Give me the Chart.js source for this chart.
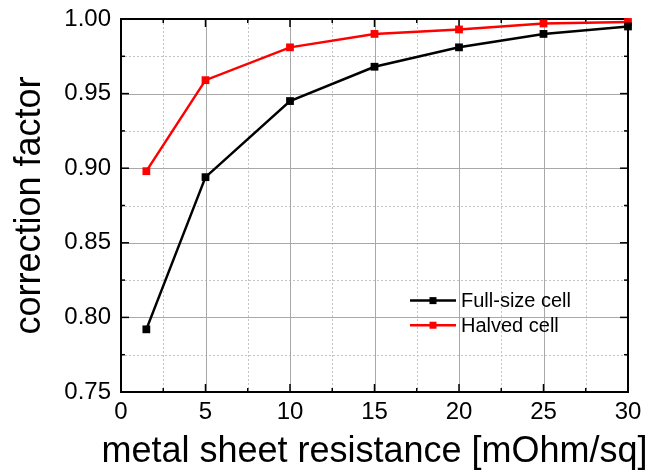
<!DOCTYPE html>
<html>
<head>
<meta charset="utf-8">
<script src="https://cdn.jsdelivr.net/npm/chart.js@4.4.0/dist/chart.umd.min.js"></script>
<style>
html, body { margin: 0; padding: 0; background: #fff; }
#wrap { width: 649px; height: 472px; }
</style>
</head>
<body>
<div id="wrap"><canvas id="graph"></canvas></div>
<script>
// values
const resistance = [1.5, 5, 10, 15, 20, 25, 30];
const fullSize = [0.792, 0.894, 0.945, 0.968, 0.981, 0.990, 0.995];
const halved = [0.898, 0.959, 0.981, 0.990, 0.993, 0.997, 0.998];
const xTicks = [0, 5, 10, 15, 20, 25, 30];
const yTicks = [0.75, 0.80, 0.85, 0.90, 0.95, 1.00];
const seriesNames = ['Full-size cell', 'Halved cell'];
const seriesColors = ['#000000', '#ff0000'];
const xTitle = 'metal sheet resistance [mOhm/sq]';
const yTitle = 'correction factor';

const FONT = '"Liberation Sans", Arial, sans-serif';
const xMinor = xTicks.slice(1).map((v, i) => (v + xTicks[i]) / 2);
const yMinor = yTicks.slice(1).map((v, i) => (v + yTicks[i]) / 2);

function seg(ctx, x1, y1, x2, y2) {
    ctx.beginPath();
    ctx.moveTo(x1, y1);
    ctx.lineTo(x2, y2);
    ctx.stroke();
}

// grid, frame and inward ticks like the original Origin plot
const framePlugin = {
    id: 'frame',
    beforeDatasetsDraw(chart) {
        const ctx = chart.ctx;
        const a = chart.chartArea;
        const x = chart.scales.x;
        const y = chart.scales.y;
        ctx.save();
        ctx.lineWidth = 1;
        ctx.strokeStyle = '#c4c4c4';
        ctx.setLineDash([2, 2]);
        xMinor.forEach(v => {
            const px = Math.round(x.getPixelForValue(v)) + 0.5;
            seg(ctx, px, a.top, px, a.bottom);
        });
        yMinor.forEach(v => {
            const py = Math.round(y.getPixelForValue(v)) + 0.5;
            seg(ctx, a.left, py, a.right, py);
        });
        ctx.setLineDash([]);
        ctx.strokeStyle = '#a8a8a8';
        xTicks.forEach(v => {
            const px = Math.round(x.getPixelForValue(v)) + 0.5;
            seg(ctx, px, a.top, px, a.bottom);
        });
        yTicks.forEach(v => {
            const py = Math.round(y.getPixelForValue(v)) + 0.5;
            seg(ctx, a.left, py, a.right, py);
        });

        ctx.strokeStyle = '#000';
        ctx.lineWidth = 2;
        ctx.strokeRect(a.left, a.top, a.right - a.left, a.bottom - a.top);
        ctx.lineWidth = 1.5;
        xTicks.forEach(v => {
            const px = x.getPixelForValue(v);
            seg(ctx, px, a.bottom, px, a.bottom - 8);
            seg(ctx, px, a.top, px, a.top + 8);
        });
        xMinor.forEach(v => {
            const px = x.getPixelForValue(v);
            seg(ctx, px, a.bottom, px, a.bottom - 4);
            seg(ctx, px, a.top, px, a.top + 4);
        });
        yTicks.forEach(v => {
            const py = y.getPixelForValue(v);
            seg(ctx, a.left, py, a.left + 8, py);
            seg(ctx, a.right, py, a.right - 8, py);
        });
        yMinor.forEach(v => {
            const py = y.getPixelForValue(v);
            seg(ctx, a.left, py, a.left + 4, py);
            seg(ctx, a.right, py, a.right - 4, py);
        });
        ctx.restore();
    },
    afterDraw(chart) {
        const ctx = chart.ctx;
        const a = chart.chartArea;
        const w = a.right - a.left;
        const h = a.bottom - a.top;
        ctx.save();
        // x title drawn by hand so chart.js does not squeeze it to the axis width
        ctx.font = '36px ' + FONT;
        ctx.fillStyle = '#000';
        ctx.textAlign = 'center';
        ctx.textBaseline = 'alphabetic';
        ctx.fillText(xTitle, (a.left + a.right) / 2, a.bottom + 70);

        ctx.font = '20px ' + FONT;
        ctx.textAlign = 'left';
        ctx.textBaseline = 'middle';
        seriesNames.forEach((name, i) => {
            const lx = a.left + w * 0.57;
            const ly = a.top + h * (0.755 + i * 0.066);
            ctx.strokeStyle = seriesColors[i];
            ctx.fillStyle = seriesColors[i];
            ctx.lineWidth = 2.5;
            seg(ctx, lx, ly, lx + 46, ly);
            ctx.fillRect(lx + 23 - 3.5, ly - 3.5, 7, 7);
            ctx.fillStyle = '#000';
            ctx.fillText(name, lx + 51, ly + 1);
        });
        ctx.restore();
    }
};

const ctx = document.getElementById('graph').getContext('2d');

const data = {
    datasets: [
        {
            label: seriesNames[0],
            data: resistance.map((r, i) => ({x: r, y: fullSize[i]})),
            borderColor: seriesColors[0],
            backgroundColor: seriesColors[0],
        },
        {
            label: seriesNames[1],
            data: resistance.map((r, i) => ({x: r, y: halved[i]})),
            borderColor: seriesColors[1],
            backgroundColor: seriesColors[1],
        }
    ]
};

const config = {
    type: 'line',
    data: data,
    options: {
        responsive: true,
        maintainAspectRatio: false,
        animation: false,
        clip: false,
        layout: {padding: {top: 19, right: 21, left: 0, bottom: 0}},
        elements: {
            line: {borderWidth: 2.5, tension: 0},
            point: {pointStyle: 'rect', radius: 5.5, borderWidth: 0}
        },
        scales: {
            x: {
                type: 'linear',
                min: 0,
                max: 30,
                afterBuildTicks: s => { s.ticks = xTicks.map(v => ({value: v})); },
                afterFit: s => { s.height = 80; s.paddingLeft = 0; s.paddingRight = 0; },
                grid: {display: false, drawTicks: false},
                border: {display: false},
                ticks: {
                    color: '#000',
                    padding: 6,
                    maxRotation: 0,
                    font: {family: FONT, size: 24}
                },
                title: {display: false}
            },
            y: {
                min: 0.75,
                max: 1.00,
                afterBuildTicks: s => { s.ticks = yTicks.map(v => ({value: v})); },
                afterFit: s => { s.width = 121; s.paddingTop = 0; s.paddingBottom = 0; },
                grid: {display: false, drawTicks: false},
                border: {display: false},
                ticks: {
                    color: '#000',
                    padding: 10,
                    callback: v => v.toFixed(2),
                    font: {family: FONT, size: 24}
                },
                title: {
                    display: true,
                    text: yTitle,
                    color: '#000',
                    padding: {top: 8, bottom: 0},
                    font: {family: FONT, size: 36}
                }
            }
        },
        plugins: {
            legend: {display: false},
            tooltip: {enabled: false}
        }
    },
    plugins: [framePlugin]
};
let graph = new Chart(ctx, config);
</script>
</body>
</html>
